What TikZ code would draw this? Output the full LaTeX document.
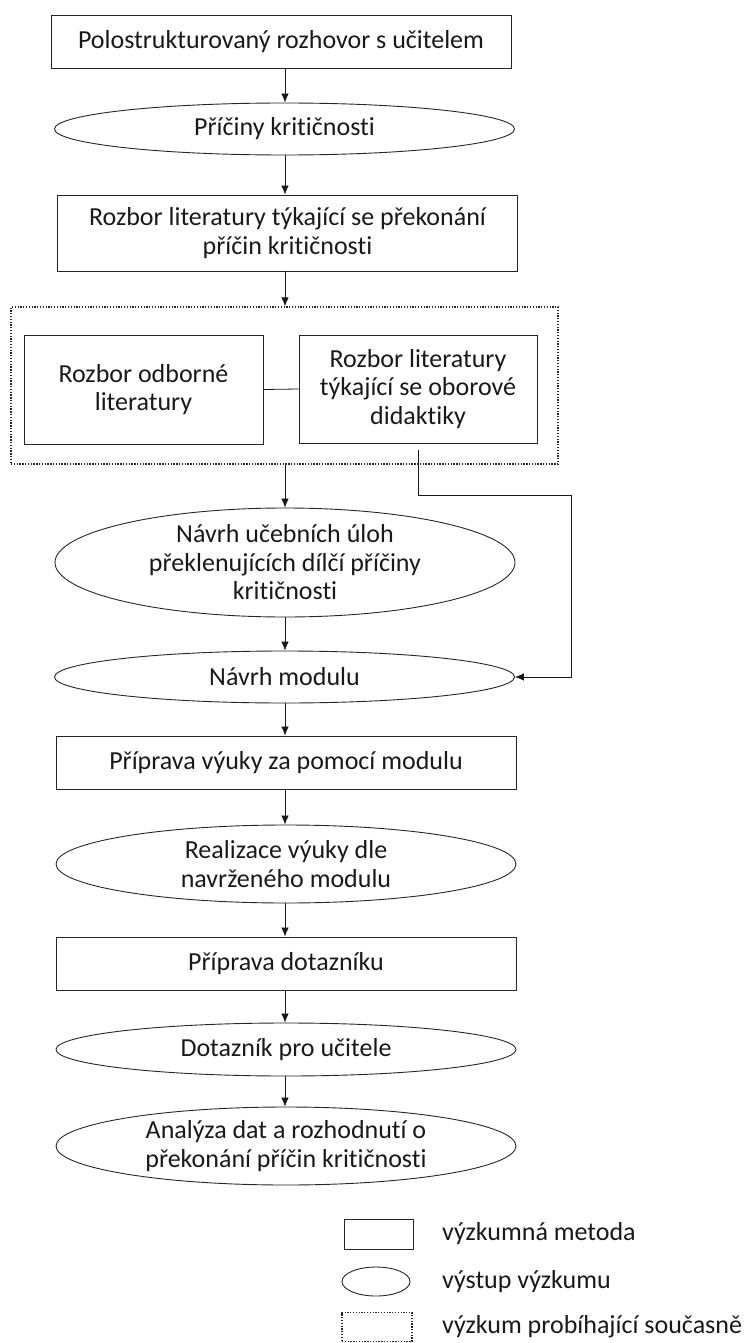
\documentclass[tikz,border=0pt]{standalone}
\usepackage{fontspec}
\setmainfont{Carlito}[Ligatures=NoCommon]
\usetikzlibrary{arrows.meta,shapes.geometric}
\begin{document}
\begin{tikzpicture}[x=1pt,y=-1pt,
  every node/.style={font=\fontsize{26}{28.5}\selectfont, text=black!90, align=center, inner sep=0pt},
  method/.style={draw=black!85, line width=0.9pt, rectangle, minimum width=#1},
  method/.default=460pt,
  outcome/.style={draw=black!85, line width=0.9pt, ellipse, minimum width=460pt},
  parallel/.style={draw=black!85, line width=1.3pt, dash pattern=on 1.3pt off 1.5pt},
  flow/.style={draw=black!90, line width=0.8pt, -{Latex[length=9pt,width=7.5pt]}},
  link/.style={draw=black!90, line width=0.8pt}]
\useasboundingbox (0,0) rectangle (746,1343);

\node[method, minimum height=53pt] (b1) at (281,41.5) {Polostrukturovaný rozhovor s učitelem};
\node[outcome, minimum height=52pt] (e1) at (284.5,129) {Příčiny kritičnosti};
\node[method, minimum height=76pt] (b2) at (287.5,233) {Rozbor literatury týkající se překonání\\příčin kritičnosti};
\node[parallel, minimum width=547pt, minimum height=157pt] (par) at (284.5,385.5) {};
\node[method=239pt, minimum height=109pt] (lb) at (143.5,389.5) {Rozbor odborné\\literatury};
\node[method=238pt, minimum height=108pt] (rb) at (418,389) {Rozbor literatury\\týkající se oborové\\didaktiky};
\node[outcome, minimum height=109pt] (e2) at (285,562.5) {Návrh učebních úloh\\překlenujících dílčí příčiny\\kritičnosti};
\node[outcome, minimum height=52pt] (e3) at (284.5,677) {Návrh modulu};
\node[method, minimum height=53pt] (b3) at (286,762.5) {Příprava výuky za pomocí modulu};
\node[outcome, minimum height=78pt] (e4) at (286,864) {Realizace výuky dle\\navrženého modulu};
\node[method, minimum height=53pt] (b4) at (286,963.5) {Příprava dotazníku};
\node[outcome, minimum height=53pt] (e5) at (286,1049.5) {Dotazník pro učitele};
\node[outcome, minimum height=78pt] (e6) at (286,1146) {Analýza dat a rozhodnutí o\\překonání příčin kritičnosti};

\draw[flow] (b1.south -| 285,0) -- (e1.north -| 285,0);
\draw[flow] (e1.south -| 285,0) -- (b2.north -| 285,0);
\draw[flow] (b2.south -| 285,0) -- (par.north -| 285,0);
\draw[link] (lb.east) -- (rb.west);
\draw[flow] (par.south -| 285,0) -- (e2.north -| 285,0);
\draw[flow] (e2.south -| 285,0) -- (e3.north -| 285,0);
\draw[flow] (e3.south -| 285,0) -- (b3.north -| 285,0);
\draw[flow] (b3.south -| 285,0) -- (e4.north -| 285,0);
\draw[flow] (e4.south -| 285,0) -- (b4.north -| 285,0);
\draw[flow] (b4.south -| 285,0) -- (e5.north -| 285,0);
\draw[flow] (e5.south -| 285,0) -- (e6.north -| 285,0);

\coordinate (rstart) at ([yshift=-7pt]rb.south);
\coordinate (rturn) at (571,495);
\draw[flow] (rstart) |- (rturn) |- (e3.east);

% legend
\node[method=69pt, minimum height=30pt] (lg1) at (378.5,1234) {};
\node[draw=black!85, line width=0.9pt, ellipse, minimum width=68pt, minimum height=29pt] (lg2) at (376,1281.5) {};
\node[parallel, minimum width=70pt, minimum height=29pt] (lg3) at (377,1327) {};
\node[anchor=west] (t1) at (442,1234) {výzkumná metoda};
\node[anchor=west] (t2) at (442,1281.5) {výstup výzkumu};
\node[anchor=west] (t3) at (442,1327) {výzkum probíhající současně};
\end{tikzpicture}
\end{document}
